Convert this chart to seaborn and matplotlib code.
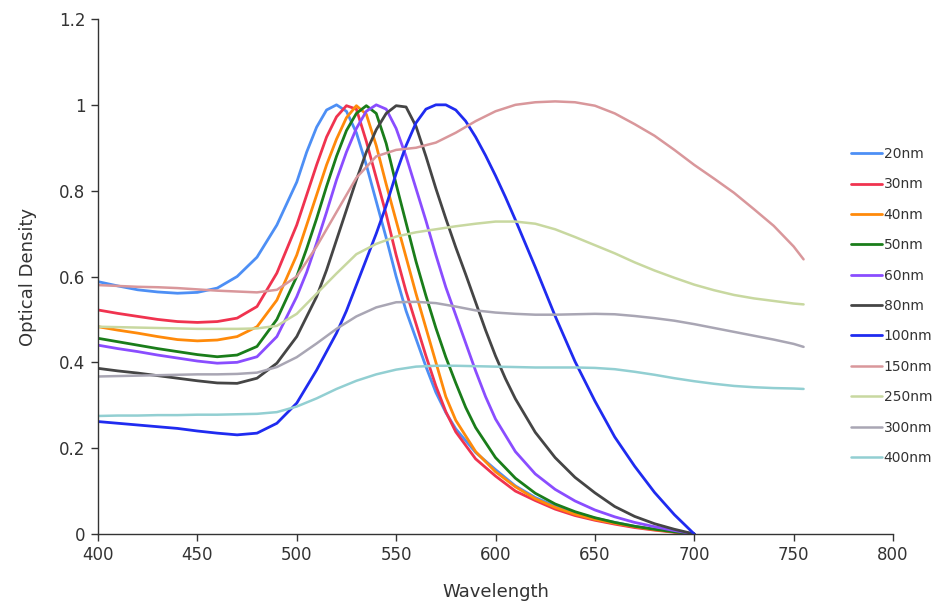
import matplotlib
matplotlib.use("Agg")
import matplotlib.pyplot as plt
import numpy as np
import pandas as pd
import seaborn as sns

# ---------------- data ----------------
labels = ["20nm", "30nm", "40nm", "50nm", "60nm", "80nm", "100nm",
          "150nm", "250nm", "300nm", "400nm"]
colors = ["#4d8ff5", "#f0334f", "#ff8a0a", "#1a7d1a", "#8a4dff", "#454545",
          "#1f2bf0", "#d9979b", "#c8d8a0", "#a9a6b4", "#92cfd2"]

wl_20 = [400, 410, 420, 430, 440, 450, 460, 470, 480, 490, 500, 505, 510, 515, 520, 525, 530,
         535, 540, 545, 550, 555, 560, 565, 570, 575, 580, 590, 600, 610, 620, 630, 640, 650,
         660, 670, 680, 690, 700]
od_20 = [0.588, 0.578, 0.569, 0.564, 0.561, 0.563, 0.573, 0.600, 0.645, 0.720, 0.820, 0.890,
         0.948, 0.988, 1.000, 0.985, 0.935, 0.860, 0.775, 0.690, 0.600, 0.520, 0.455, 0.390,
         0.330, 0.283, 0.245, 0.190, 0.150, 0.112, 0.085, 0.065, 0.050, 0.037, 0.027, 0.018,
         0.011, 0.005, 0.0]

wl_30 = [400, 410, 420, 430, 440, 450, 460, 470, 480, 490, 500, 505, 510, 515, 520, 525, 530,
         535, 540, 545, 550, 555, 560, 565, 570, 575, 580, 590, 600, 610, 620, 630, 640, 650,
         660, 670, 680, 690, 700]
od_30 = [0.522, 0.514, 0.507, 0.500, 0.495, 0.493, 0.495, 0.503, 0.530, 0.608, 0.720, 0.790,
         0.860, 0.925, 0.972, 0.998, 0.990, 0.915, 0.830, 0.745, 0.650, 0.565, 0.490, 0.415,
         0.345, 0.285, 0.238, 0.175, 0.135, 0.100, 0.078, 0.058, 0.043, 0.032, 0.023, 0.015,
         0.009, 0.004, 0.0]

wl_40 = [400, 410, 420, 430, 440, 450, 460, 470, 480, 490, 500, 505, 510, 515, 520, 525, 530,
         535, 540, 545, 550, 555, 560, 565, 570, 575, 580, 590, 600, 610, 620, 630, 640, 650,
         660, 670, 680, 690, 700]
od_40 = [0.483, 0.475, 0.468, 0.460, 0.453, 0.450, 0.452, 0.460, 0.483, 0.545, 0.650, 0.720,
         0.790, 0.860, 0.920, 0.970, 0.998, 0.978, 0.905, 0.815, 0.730, 0.645, 0.560, 0.480,
         0.400, 0.320, 0.265, 0.192, 0.145, 0.110, 0.082, 0.062, 0.046, 0.034, 0.025, 0.017,
         0.010, 0.005, 0.0]

wl_50 = [400, 410, 420, 430, 440, 450, 460, 470, 480, 490, 500, 505, 510, 515, 520, 525, 530,
         535, 540, 545, 550, 555, 560, 565, 570, 575, 580, 585, 590, 600, 610, 620, 630, 640,
         650, 660, 670, 680, 690, 700]
od_50 = [0.456, 0.448, 0.440, 0.432, 0.425, 0.418, 0.413, 0.417, 0.437, 0.500, 0.600, 0.665,
         0.735, 0.810, 0.880, 0.940, 0.980, 0.998, 0.980, 0.910, 0.815, 0.725, 0.635, 0.555,
         0.480, 0.412, 0.352, 0.295, 0.248, 0.178, 0.130, 0.095, 0.070, 0.052, 0.038, 0.027,
         0.018, 0.011, 0.005, 0.0]

wl_60 = [400, 410, 420, 430, 440, 450, 460, 470, 480, 490, 500, 505, 510, 515, 520, 525, 530,
         535, 540, 545, 550, 555, 560, 565, 570, 575, 580, 585, 590, 595, 600, 610, 620, 630,
         640, 650, 660, 670, 680, 690, 700]
od_60 = [0.440, 0.432, 0.425, 0.417, 0.410, 0.403, 0.398, 0.400, 0.413, 0.460, 0.553, 0.610,
         0.678, 0.750, 0.825, 0.890, 0.945, 0.985, 1.000, 0.990, 0.945, 0.880, 0.805, 0.730,
         0.650, 0.575, 0.510, 0.445, 0.380, 0.320, 0.268, 0.192, 0.140, 0.104, 0.077, 0.056,
         0.040, 0.027, 0.017, 0.008, 0.0]

wl_80 = [400, 410, 420, 430, 440, 450, 460, 470, 480, 490, 500, 510, 515, 520, 525, 530, 535,
         540, 545, 550, 555, 560, 565, 570, 575, 580, 585, 590, 595, 600, 605, 610, 620, 630,
         640, 650, 660, 670, 680, 690, 700]
od_80 = [0.386, 0.380, 0.375, 0.369, 0.363, 0.357, 0.352, 0.351, 0.363, 0.398, 0.460, 0.553,
         0.615, 0.685, 0.755, 0.825, 0.890, 0.942, 0.980, 0.998, 0.995, 0.950, 0.880, 0.805,
         0.735, 0.668, 0.605, 0.540, 0.475, 0.415, 0.362, 0.315, 0.237, 0.178, 0.132, 0.096,
         0.064, 0.041, 0.024, 0.011, 0.0]

wl_100 = [400, 410, 420, 430, 440, 450, 460, 470, 480, 490, 500, 510, 520, 525, 530, 535, 540,
          545, 550, 555, 560, 565, 570, 575, 580, 585, 590, 595, 600, 605, 610, 620, 630, 640,
          650, 660, 670, 680, 690, 700]
od_100 = [0.262, 0.258, 0.254, 0.250, 0.246, 0.240, 0.235, 0.231, 0.235, 0.258, 0.305, 0.382,
          0.468, 0.520, 0.580, 0.640, 0.700, 0.765, 0.840, 0.905, 0.958, 0.990, 1.000, 1.000,
          0.988, 0.962, 0.925, 0.882, 0.835, 0.785, 0.732, 0.622, 0.508, 0.402, 0.310, 0.226,
          0.158, 0.097, 0.045, 0.0]

wl_big = [400, 410, 420, 430, 440, 450, 460, 470, 480, 490, 500, 510, 520, 530, 540, 550, 560,
          570, 580, 590, 600, 610, 620, 630, 640, 650, 660, 670, 680, 690, 700, 710, 720, 730,
          740, 750, 755]
od_150 = [0.580, 0.578, 0.576, 0.575, 0.573, 0.570, 0.567, 0.565, 0.563, 0.569, 0.600, 0.670,
          0.750, 0.830, 0.880, 0.895, 0.900, 0.912, 0.935, 0.962, 0.985, 1.000, 1.006, 1.008,
          1.006, 0.998, 0.980, 0.955, 0.928, 0.895, 0.860, 0.828, 0.795, 0.757, 0.718, 0.670,
          0.640]
od_250 = [0.483, 0.482, 0.481, 0.480, 0.479, 0.478, 0.478, 0.478, 0.479, 0.485, 0.513, 0.560,
          0.607, 0.652, 0.676, 0.693, 0.703, 0.710, 0.717, 0.723, 0.728, 0.728, 0.723, 0.710,
          0.692, 0.673, 0.654, 0.633, 0.614, 0.597, 0.581, 0.568, 0.557, 0.549, 0.543, 0.537,
          0.535]
od_300 = [0.367, 0.368, 0.369, 0.370, 0.371, 0.372, 0.372, 0.373, 0.376, 0.389, 0.412, 0.444,
          0.478, 0.507, 0.528, 0.540, 0.541, 0.538, 0.530, 0.521, 0.516, 0.513, 0.511, 0.511,
          0.512, 0.513, 0.512, 0.508, 0.503, 0.497, 0.489, 0.480, 0.471, 0.462, 0.453, 0.443,
          0.436]
od_400 = [0.275, 0.276, 0.276, 0.277, 0.277, 0.278, 0.278, 0.279, 0.280, 0.284, 0.297, 0.316,
          0.338, 0.357, 0.372, 0.383, 0.390, 0.392, 0.392, 0.391, 0.390, 0.389, 0.388, 0.388,
          0.388, 0.387, 0.384, 0.378, 0.371, 0.363, 0.356, 0.350, 0.345, 0.342, 0.340, 0.339,
          0.338]

x_ticks = [400, 450, 500, 550, 600, 650, 700, 750, 800]
y_ticks = [0, 0.2, 0.4, 0.6, 0.8, 1.0, 1.2]
y_tick_labels = ["0", "0.2", "0.4", "0.6", "0.8", "1", "1.2"]

series = [
    (wl_20, od_20), (wl_30, od_30), (wl_40, od_40), (wl_50, od_50), (wl_60, od_60),
    (wl_80, od_80), (wl_100, od_100), (wl_big, od_150), (wl_big, od_250),
    (wl_big, od_300), (wl_big, od_400),
]
frames = []
for lab, (xs, ys) in zip(labels, series):
    frames.append(pd.DataFrame({"Wavelength": xs, "Optical Density": ys, "Size": lab}))
df = pd.concat(frames, ignore_index=True)

# ---------------- plotting ----------------
sns.set_style("ticks")
plt.rcParams["font.family"] = ["DejaVu Sans"]

fig = plt.figure(figsize=(9.53, 6.07), dpi=100)
ax = fig.add_axes([98 / 953, 1 - 534 / 607, (893 - 98) / 953, (534 - 19) / 607])

sns.lineplot(data=df, x="Wavelength", y="Optical Density", hue="Size",
             hue_order=labels, palette=dict(zip(labels, colors)),
             estimator=None, sort=False, legend=False, ax=ax)

lines = ax.get_lines()
for i, ln in enumerate(lines):
    ln.set_linewidth(2.0 if i < 7 else 1.8)
    ln.set_solid_capstyle("round")
    ln.set_solid_joinstyle("round")

ax.set_xlim(400, 800)
ax.set_ylim(0, 1.2)
ax.set_xticks(x_ticks)
ax.set_yticks(y_ticks)
ax.set_yticklabels(y_tick_labels)
ax.tick_params(axis="both", direction="out", length=5, width=1.0, colors="#333333",
               labelsize=12, pad=4)
for side in ["top", "right"]:
    ax.spines[side].set_visible(False)
for side in ["left", "bottom"]:
    ax.spines[side].set_color("#333333")
    ax.spines[side].set_linewidth(1.0)

ax.set_xlabel("Wavelength", fontsize=13, color="#333333", labelpad=13)
ax.set_ylabel("Optical Density", fontsize=13, color="#333333", labelpad=16)

ax.legend(lines, labels, loc="upper left", bbox_to_anchor=(851 / 953, 1 - 147 / 607),
          bbox_transform=fig.transFigure, frameon=False, fontsize=10,
          handlelength=2.2, handletextpad=0.15, labelspacing=1.18,
          borderpad=0, borderaxespad=0, labelcolor="#333333")

fig.savefig("out.png", dpi=100, facecolor="white")
